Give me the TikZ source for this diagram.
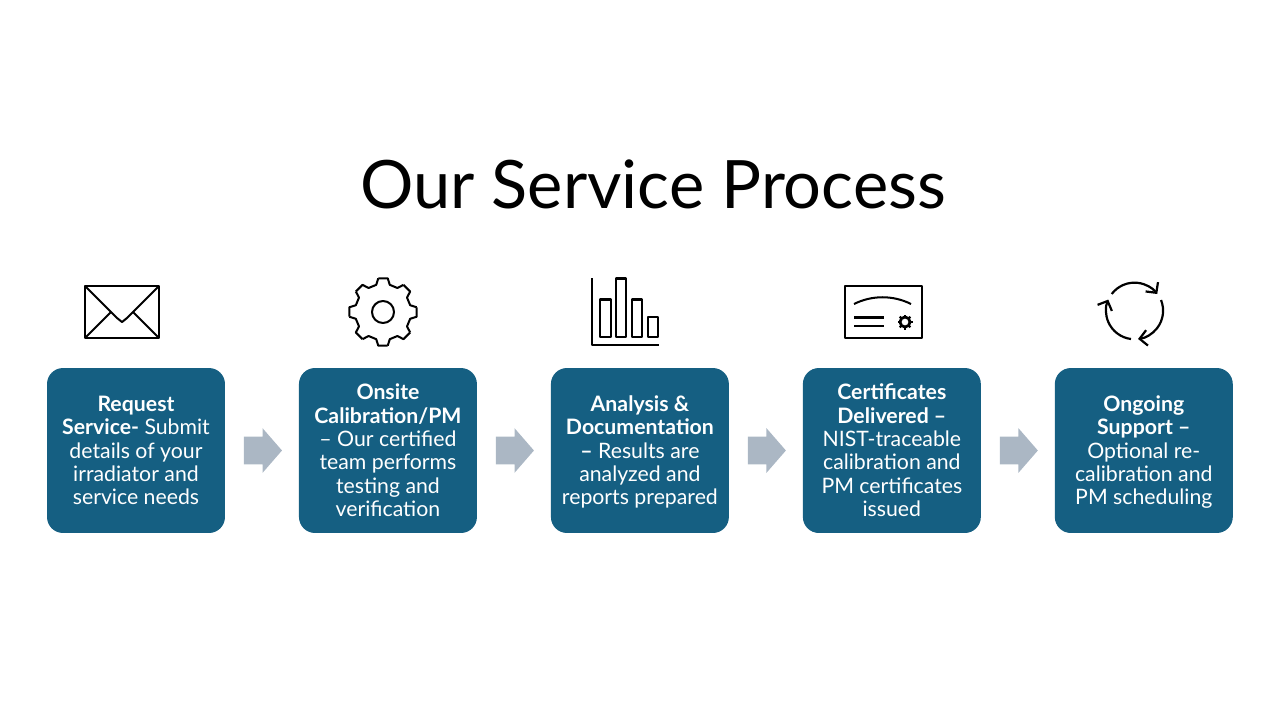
\documentclass[tikz,border=0pt]{standalone}
\usepackage{fontspec}
\setmainfont{Lato}
\usepackage{tikz}
\usetikzlibrary{arrows.meta,positioning,shapes.arrows}
\definecolor{boxblue}{HTML}{155F82}
\definecolor{arrowgray}{HTML}{ABB7C4}
\newcommand{\firstline}{\rule{0pt}{12.7pt}}
\tikzset{
  stepbox/.style={draw=none,fill=boxblue,rounded corners=.32cm,minimum width=3.56cm,minimum height=3.3cm,
    inner sep=0pt,outer sep=0pt,align=center,text=white,font=\fontsize{12.1}{13.3}\selectfont,
    execute at end node=\strut},
  flowarrow/.style={single arrow,fill=arrowgray,inner xsep=0pt,inner ysep=.27cm,outer sep=0pt,minimum height=.76cm,
    single arrow head extend=.17cm,single arrow tip angle=98},
  icon/.style={line width=1.15pt,line join=round,black}
}
\begin{document}
\begin{tikzpicture}[x=.02cm,y=-.02cm,>={Straight Barb[length=.15cm,width=.31cm]}]
  \useasboundingbox (0,0) rectangle (1280,720);
  \node[font=\fontsize{38}{44}\selectfont] (title) at (653,184) {Our Service Process};
  \node[stepbox] (request) at (136,450.5) {\firstline\textbf{Request}\\\textbf{Service-} Submit\\details of your\\irradiator and\\service needs};
  \node[stepbox,right=1.48cm of request] (onsite) {\firstline\textbf{Onsite}\\\textbf{Calibration/PM}\\– Our certified\\team performs\\testing and\\verification};
  \node[stepbox,right=1.48cm of onsite] (analysis) {\firstline\textbf{Analysis \&}\\\textbf{Documentation}\\\textbf{–} Results are\\analyzed and\\reports prepared};
  \node[stepbox,right=1.48cm of analysis] (certs) {\firstline\textbf{Certificates}\\\textbf{Delivered –}\\NIST-traceable\\calibration and\\PM certificates\\issued};
  \node[stepbox,right=1.48cm of certs] (support) {\firstline\textbf{Ongoing}\\\textbf{Support –}\\Optional re-\\calibration and\\PM scheduling};
  \node[flowarrow,right=.38cm of request] (arrow1) {};
  \node[flowarrow,right=.38cm of onsite] (arrow2) {};
  \node[flowarrow,right=.38cm of analysis] (arrow3) {};
  \node[flowarrow,right=.38cm of certs] (arrow4) {};
  % envelope
  \draw[icon] (85,286) rectangle (159,338);
  \draw[icon] (85,286)--(117,318) to[out=45,in=135,looseness=0] (122,322)--(127,318)--(159,286);
  \draw[icon] (85,338)--(111,312) (159,338)--(133,312);
  % gear
  \draw[icon] (383,312) circle (11);
  \foreach \a in {0,45,...,315} {
    \draw[icon] ([shift={(383,312)}]\a-8:34)--([shift={(383,312)}]\a+8:34)--([shift={(383,312)}]\a+14:28)
      --([shift={(383,312)}]\a+31:28)--([shift={(383,312)}]\a+37:34);
  }
  % chart
  \draw[icon] (592,278)--(592,345)--(659,345);
  \draw[icon] (600,299.5) rectangle (610.5,337);
  \draw[icon] (616,278.5) rectangle (626,337);
  \draw[icon] (632,299.5) rectangle (642,337);
  \draw[icon] (648,317) rectangle (658,337);
  % certificate
  \draw[icon] (845,286) rectangle (921.5,338);
  \draw[icon] (854,304) .. controls (872,295) and (893,295) .. (911,304);
  \draw[icon] (854,317.5)--(884,317.5) (854,326)--(884,326);
  \draw[icon,line width=1.6pt] (905,322) circle (5);
  \foreach \a in {0,45,...,315} {
    \draw[icon,line width=1.2pt] ([shift={(905,322)}]\a:5)--([shift={(905,322)}]\a:7.5);
  }
  % cycle
  \draw[icon,line width=1.25pt,->] (1111.7,294) arc[start angle=-143,end angle=-37,radius=28.5];
  \draw[icon,line width=1.25pt,->] (1161,300) arc[start angle=-22,end angle=83,radius=28.5];
  \draw[icon,line width=1.25pt,->] (1131,339) arc[start angle=97,end angle=203,radius=28.5];
\end{tikzpicture}
\end{document}
